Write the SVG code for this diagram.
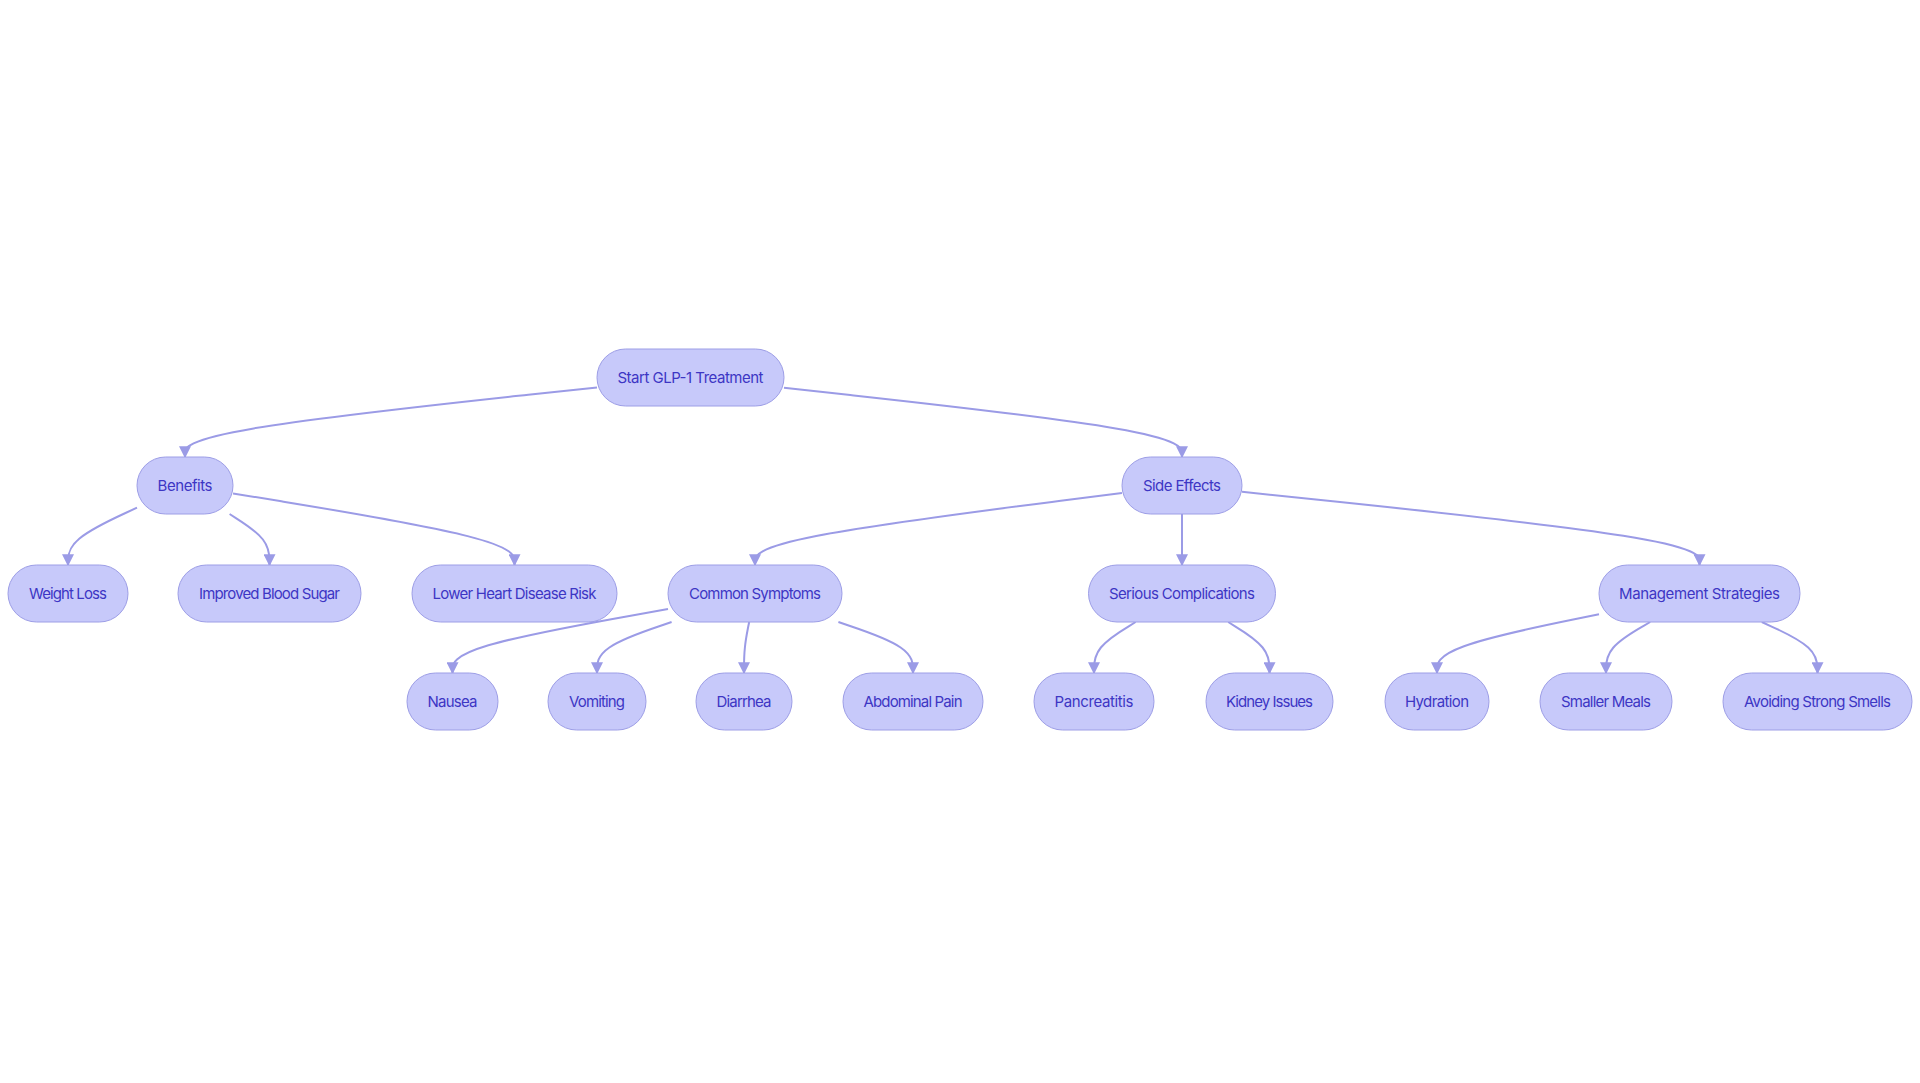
<svg xmlns="http://www.w3.org/2000/svg" width="1920" height="1083" viewBox="0 0 1920 1083">
<defs>
<style>
.node rect{fill:#c7c9fa;stroke:#9d9ee6;stroke-width:1}
.node text{font-family:Inter,"Noto Sans","Liberation Sans",sans-serif;font-size:15px;font-weight:400;fill:#3d36c4;text-anchor:middle}
.edges path{fill:none;stroke:#9b9be6;stroke-width:2;marker-end:url(#arrow)}
</style>
<marker id="arrow" viewBox="0 0 10 10" refX="9" refY="5" markerWidth="12" markerHeight="12" markerUnits="userSpaceOnUse" orient="auto">
<path d="M0,0 L10,5 L0,10 z" fill="#9b9be6"/>
</marker>
</defs>
<rect width="1920" height="1083" fill="#ffffff"/>
<g class="edges" id="connectors">
<path d="M597,387.5 L528.3,394.8 C459.7,402.2 322.3,416.8 253.7,428.4 C185,440 185,448.5 185,452.8 L185,457"/>
<path d="M784,387.8 L850.3,395.1 C916.7,402.4 1049.3,416.9 1115.7,428.5 C1182,440 1182,448.5 1182,452.8 L1182,457"/>
<path d="M137,507.7 L125.5,513 C114,518.3 91,528.9 79.5,538.5 C68,548 68,556.5 68,560.8 L68,565"/>
<path d="M229.6,514 L236.3,518.3 C242.9,522.5 256.2,531 262.9,539.5 C269.5,548 269.5,556.5 269.5,560.8 L269.5,565"/>
<path d="M233,493.4 L279.9,501.1 C326.8,508.8 420.7,524.1 467.6,536.1 C514.5,548 514.5,556.5 514.5,560.8 L514.5,565"/>
<path d="M1122,493.1 L1060.8,500.8 C999.7,508.6 877.3,524 816.2,536 C755,548 755,556.5 755,560.8 L755,565"/>
<path d="M1182,514 L1182,565"/>
<path d="M1242,491.8 L1318.3,499.8 C1394.5,507.7 1547,523.6 1623.3,535.8 C1699.5,548 1699.5,556.5 1699.5,560.8 L1699.5,565"/>
<path d="M668,609 L632.1,615.4 C596.2,621.8 524.3,634.7 488.4,645.3 C452.5,656 452.5,664.5 452.5,668.8 L452.5,673"/>
<path d="M671.6,622 L659.2,626.3 C646.7,630.5 621.9,639 609.4,647.5 C597,656 597,664.5 597,668.8 L597,673"/>
<path d="M749.2,622 L748.3,626.3 C747.5,630.5 745.7,639 744.9,647.5 C744,656 744,664.5 744,668.8 L744,673"/>
<path d="M838.4,622 L850.8,626.3 C863.3,630.5 888.1,639 900.6,647.5 C913,656 913,664.5 913,668.8 L913,673"/>
<path d="M1135.6,622 L1128.7,626.3 C1121.7,630.5 1107.9,639 1100.9,647.5 C1094,656 1094,664.5 1094,668.8 L1094,673"/>
<path d="M1228.2,622 L1235.1,626.3 C1242,630.5 1255.7,639 1262.6,647.5 C1269.5,656 1269.5,664.5 1269.5,668.8 L1269.5,673"/>
<path d="M1599,614.2 L1572,619.8 C1545,625.3 1491,636.4 1464,646.2 C1437,656 1437,664.5 1437,668.8 L1437,673"/>
<path d="M1650.2,622 L1642.8,626.3 C1635.5,630.5 1620.7,639 1613.4,647.5 C1606,656 1606,664.5 1606,668.8 L1606,673"/>
<path d="M1761.8,622 L1771.1,626.3 C1780.4,630.5 1798.9,639 1808.2,647.5 C1817.5,656 1817.5,664.5 1817.5,668.8 L1817.5,673"/>
</g>
<g class="node" id="start"><rect x="597" y="349" width="187" height="57" rx="28.5"/><text x="690.5" y="383" textLength="146" lengthAdjust="spacing">Start GLP-1 Treatment</text></g>
<g class="node" id="benefits"><rect x="137" y="457" width="96" height="57" rx="28.5"/><text x="185" y="491" textLength="55" lengthAdjust="spacing">Benefits</text></g>
<g class="node" id="side-effects"><rect x="1122" y="457" width="120" height="57" rx="28.5"/><text x="1182" y="491" textLength="78" lengthAdjust="spacing">Side Effects</text></g>
<g class="node" id="weight-loss"><rect x="8" y="565" width="120" height="57" rx="28.5"/><text x="68" y="599" textLength="78" lengthAdjust="spacing">Weight Loss</text></g>
<g class="node" id="improved-blood-sugar"><rect x="178" y="565" width="183" height="57" rx="28.5"/><text x="269.5" y="599" textLength="141" lengthAdjust="spacing">Improved Blood Sugar</text></g>
<g class="node" id="lower-heart"><rect x="412" y="565" width="205" height="57" rx="28.5"/><text x="514.5" y="599" textLength="164" lengthAdjust="spacing">Lower Heart Disease Risk</text></g>
<g class="node" id="common-symptoms"><rect x="668" y="565" width="174" height="57" rx="28.5"/><text x="755" y="599" textLength="132" lengthAdjust="spacing">Common Symptoms</text></g>
<g class="node" id="serious-complications"><rect x="1088.5" y="565" width="187" height="57" rx="28.5"/><text x="1182" y="599" textLength="146" lengthAdjust="spacing">Serious Complications</text></g>
<g class="node" id="management-strategies"><rect x="1599" y="565" width="201" height="57" rx="28.5"/><text x="1699.5" y="599" textLength="161" lengthAdjust="spacing">Management Strategies</text></g>
<g class="node" id="nausea"><rect x="407" y="673" width="91" height="57" rx="28.5"/><text x="452.5" y="707" textLength="50" lengthAdjust="spacing">Nausea</text></g>
<g class="node" id="vomiting"><rect x="548" y="673" width="98" height="57" rx="28.5"/><text x="597" y="707" textLength="56" lengthAdjust="spacing">Vomiting</text></g>
<g class="node" id="diarrhea"><rect x="696" y="673" width="96" height="57" rx="28.5"/><text x="744" y="707" textLength="55" lengthAdjust="spacing">Diarrhea</text></g>
<g class="node" id="abdominal-pain"><rect x="843" y="673" width="140" height="57" rx="28.5"/><text x="913" y="707" textLength="99" lengthAdjust="spacing">Abdominal Pain</text></g>
<g class="node" id="pancreatitis"><rect x="1034" y="673" width="120" height="57" rx="28.5"/><text x="1094" y="707" textLength="79" lengthAdjust="spacing">Pancreatitis</text></g>
<g class="node" id="kidney-issues"><rect x="1206" y="673" width="127" height="57" rx="28.5"/><text x="1269.5" y="707" textLength="87" lengthAdjust="spacing">Kidney Issues</text></g>
<g class="node" id="hydration"><rect x="1385" y="673" width="104" height="57" rx="28.5"/><text x="1437" y="707" textLength="64" lengthAdjust="spacing">Hydration</text></g>
<g class="node" id="smaller-meals"><rect x="1540" y="673" width="132" height="57" rx="28.5"/><text x="1606" y="707" textLength="90" lengthAdjust="spacing">Smaller Meals</text></g>
<g class="node" id="avoiding-strong-smells"><rect x="1723" y="673" width="189" height="57" rx="28.5"/><text x="1817.5" y="707" textLength="147" lengthAdjust="spacing">Avoiding Strong Smells</text></g>
</svg>
